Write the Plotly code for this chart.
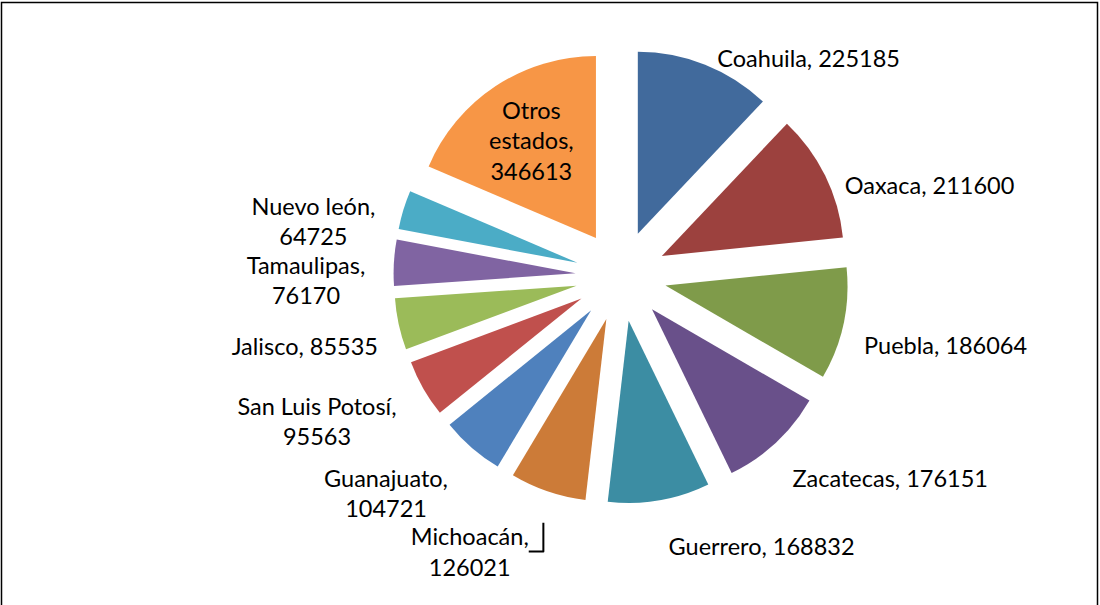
import plotly.graph_objects as go

estados = ["Coahuila", "Oaxaca", "Puebla", "Zacatecas", "Guerrero", "Michoacán",
           "Guanajuato", "San Luis Potosí", "Jalisco", "Tamaulipas", "Nuevo león",
           "Otros estados"]
valores = [225185, 211600, 186064, 176151, 168832, 126021,
           104721, 95563, 85535, 76170, 64725, 346613]
etiquetas = ["Coahuila, 225185", "Oaxaca, 211600", "Puebla, 186064",
             "Zacatecas, 176151", "Guerrero, 168832", "Michoacán,<br>126021",
             "Guanajuato,<br>104721", "San Luis Potosí,<br>95563", "Jalisco, 85535",
             "Tamaulipas,<br>76170", "Nuevo león,<br>64725",
             "Otros<br>estados,<br>346613"]
colores = ["#416A9C", "#9C413E", "#7F9B4A", "#69508A", "#3C8DA3", "#CC7B38",
           "#4F81BD", "#C0504D", "#9BBB59", "#8064A2", "#4BACC6", "#F79646"]

n = len(valores)
fuente = dict(family="Lato, Arial, sans-serif", size=23.5, color="black")

# pie geometry (pixels in a 1100x605 page)
W, H = 1100, 605
cx, cy = 621, 276
r_pie = 182
pull = 0.25
r_out = r_pie * (1 + pull)
r_lab = r_out + 14
cy_lab = cy + 18


def dom(x0, y0, rad):
    return dict(x=[(x0 - rad) / W, (x0 + rad) / W],
                y=[(H - y0 - rad) / H, (H - y0 + rad) / H])


# visible exploded slices; only the big slice carries its label inside
pos_in = ["inside" if e == "Otros estados" else "none" for e in estados]
fig = go.Figure(go.Pie(
    labels=estados, values=valores, text=etiquetas, textinfo="text",
    textposition=pos_in, insidetextorientation="horizontal",
    sort=False, direction="clockwise", rotation=0,
    pull=[pull] * n, automargin=False,
    marker=dict(colors=colores, line=dict(width=0)),
    textfont=fuente, insidetextfont=fuente,
    domain=dom(cx, cy, r_out), showlegend=False, hoverinfo="label+value",
))

# transparent companion pie carrying the outside labels a bit farther out
pos_out = ["none" if e == "Otros estados" else "outside" for e in estados]
fig.add_trace(go.Pie(
    labels=estados, values=valores, text=etiquetas, textinfo="text",
    textposition=pos_out, sort=False, direction="clockwise", rotation=0,
    automargin=False,
    marker=dict(colors=["rgba(0,0,0,0)"] * n, line=dict(width=0)),
    textfont=fuente, outsidetextfont=fuente,
    domain=dom(cx, cy_lab, r_lab), showlegend=False, hoverinfo="skip",
))

fig.update_layout(
    width=W, height=H,
    margin=dict(l=0, r=0, t=0, b=0, pad=0, autoexpand=False),
    paper_bgcolor="white",
    plot_bgcolor="white",
    shapes=[dict(type="rect", xref="paper", yref="paper",
                 x0=1.5 / W, x1=1097.5 / W, y0=-0.2, y1=(H - 2.5) / H,
                 line=dict(color="black", width=1.5))],
)

fig.write_html("out.html", config={"responsive": False, "displayModeBar": False},
               post_script="document.body.style.margin='0';document.body.style.overflow='hidden';")
